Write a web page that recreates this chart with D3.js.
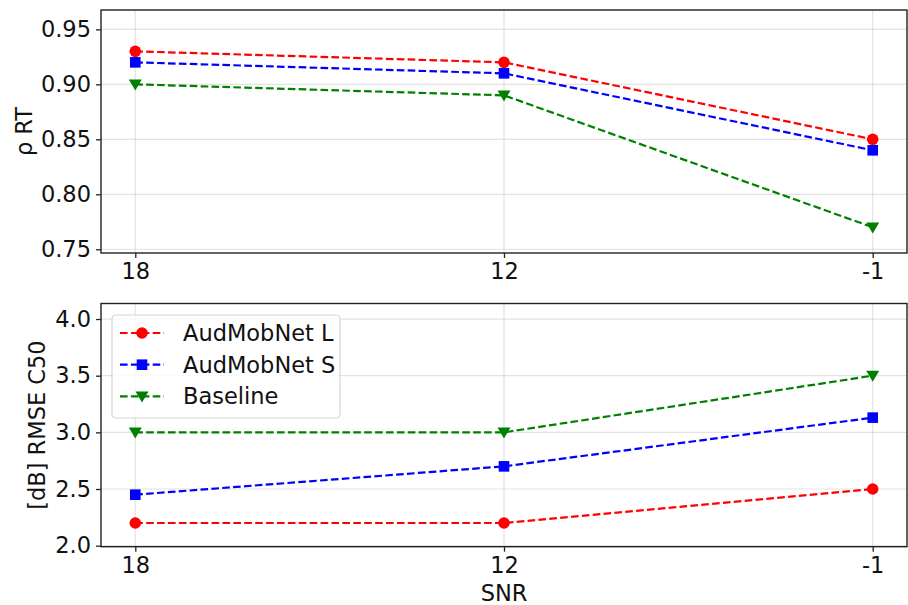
<!DOCTYPE html>
<html>
<head>
<meta charset="utf-8">
<script src="https://cdn.jsdelivr.net/npm/d3@7"></script>
<style>
  html, body { margin: 0; padding: 0; background: #fff; }
  svg { display: block; font-family: "DejaVu Sans", sans-serif; }
</style>
</head>
<body>
<svg id="chart" width="908" height="605"></svg>
<script>
// SNR conditions on the x axis
const snrLevels = ["18", "12", "-1"];

// Series names
const seriesNames = ["AudMobNet L", "AudMobNet S", "Baseline"];

// Top panel: correlation of predicted reverberation time
const rhoL = [0.93, 0.92, 0.85];
const rhoS = [0.92, 0.91, 0.84];
const rhoBase = [0.90, 0.89, 0.77];

// Bottom panel: RMSE of C50 in dB
const rmseL = [2.2, 2.2, 2.5];
const rmseS = [2.45, 2.7, 3.13];
const rmseBase = [3.0, 3.0, 3.5];

// Tick values for the y axes
const rhoTicks = [0.75, 0.80, 0.85, 0.90, 0.95];
const rmseTicks = [2.0, 2.5, 3.0, 3.5, 4.0];

const styles = [
  { color: "#ff0000", marker: "circle" },
  { color: "#0000ff", marker: "square" },
  { color: "#008000", marker: "triangleDown" }
];

const FONT = 22.5;
const svg = d3.select("#chart");
const left = 101, right = 907;

const x = d3.scalePoint().domain(snrLevels).range([left, right]).padding(0.093);

function drawMarker(g, type, cx, cy, color) {
  if (type === "circle") {
    g.append("circle").attr("cx", cx).attr("cy", cy).attr("r", 5.8).attr("fill", color);
  } else if (type === "square") {
    g.append("rect").attr("x", cx - 5.3).attr("y", cy - 5.3).attr("width", 10.6).attr("height", 10.6).attr("fill", color);
  } else {
    const s = 6.5;
    g.append("path")
      .attr("d", `M${cx - s},${cy - s * 0.75}L${cx + s},${cy - s * 0.75}L${cx},${cy + s * 0.95}Z`)
      .attr("fill", color);
  }
}

function panel(cfg) {
  const y = d3.scaleLinear().domain(cfg.domain).range([cfg.bottom, cfg.top]);
  const g = svg.append("g");

  // grid
  g.append("g").selectAll("line").data(cfg.ticks).join("line")
    .attr("x1", left).attr("x2", right)
    .attr("y1", d => y(d)).attr("y2", d => y(d))
    .attr("stroke", "#b0b0b0").attr("stroke-opacity", 0.35).attr("stroke-width", 1.2);
  g.append("g").selectAll("line").data(snrLevels).join("line")
    .attr("x1", d => x(d)).attr("x2", d => x(d))
    .attr("y1", cfg.top).attr("y2", cfg.bottom)
    .attr("stroke", "#b0b0b0").attr("stroke-opacity", 0.35).attr("stroke-width", 1.2);

  // series
  const line = d3.line().x((d, i) => x(snrLevels[i])).y(d => y(d));
  cfg.series.forEach((vals, k) => {
    const st = styles[k];
    g.append("path").datum(vals)
      .attr("d", line)
      .attr("fill", "none")
      .attr("stroke", st.color)
      .attr("stroke-width", 2.2)
      .attr("stroke-dasharray", "7.6,3.3");
    vals.forEach((v, i) => drawMarker(g, st.marker, x(snrLevels[i]), y(v), st.color));
  });

  // axes
  const yAxis = d3.axisLeft(y).tickValues(cfg.ticks).tickFormat(cfg.fmt).tickSize(5).tickPadding(5);
  const ya = g.append("g").attr("transform", `translate(${left},0)`).call(yAxis);
  const xAxis = d3.axisBottom(x).tickSize(5).tickPadding(5.5);
  const xa = g.append("g").attr("transform", `translate(0,${cfg.bottom})`).call(xAxis);
  [ya, xa].forEach(a => {
    a.select(".domain").remove();
    a.selectAll(".tick line").attr("stroke", "#222").attr("stroke-width", 1.3);
    a.selectAll(".tick text").attr("font-size", FONT).attr("fill", "#111")
      .attr("font-family", "DejaVu Sans, sans-serif");
  });

  // frame
  g.append("rect")
    .attr("x", left).attr("y", cfg.top)
    .attr("width", right - left).attr("height", cfg.bottom - cfg.top)
    .attr("fill", "none").attr("stroke", "#222").attr("stroke-width", 1.4);

  // y label
  g.append("text")
    .attr("transform", `translate(${cfg.labelX},${(cfg.top + cfg.bottom) / 2}) rotate(-90)`)
    .attr("text-anchor", "middle").attr("dominant-baseline", "central")
    .attr("font-size", FONT).attr("fill", "#111")
    .text(cfg.label);

  return { g, y };
}

panel({
  top: 10, bottom: 253,
  domain: [0.7466, 0.9676],
  ticks: rhoTicks,
  fmt: d3.format(".2f"),
  series: [rhoL, rhoS, rhoBase],
  label: "ρ RT",
  labelX: 24
});

panel({
  top: 303.5, bottom: 546.7,
  domain: [1.991, 4.137],
  ticks: rmseTicks,
  fmt: d3.format(".1f"),
  series: [rmseL, rmseS, rmseBase],
  label: "[dB] RMSE C50",
  labelX: 37
});

// x axis label
svg.append("text")
  .attr("x", (left + right) / 2).attr("y", 593)
  .attr("text-anchor", "middle").attr("dominant-baseline", "central")
  .attr("font-size", FONT).attr("fill", "#111")
  .text("SNR");

// legend
const leg = svg.append("g").attr("transform", "translate(112,315)");
leg.append("rect")
  .attr("x", 0).attr("y", 0).attr("width", 228).attr("height", 103).attr("rx", 4)
  .attr("fill", "#fff").attr("fill-opacity", 0.8)
  .attr("stroke", "#d6d6d6").attr("stroke-width", 1.2);
seriesNames.forEach((name, k) => {
  const cy = 18 + k * 31.7;
  const st = styles[k];
  leg.append("line")
    .attr("x1", 8).attr("x2", 52).attr("y1", cy).attr("y2", cy)
    .attr("stroke", st.color).attr("stroke-width", 2.2).attr("stroke-dasharray", "7.6,3.3");
  drawMarker(leg, st.marker, 30, cy, st.color);
  leg.append("text")
    .attr("x", 71).attr("y", cy)
    .attr("dominant-baseline", "central")
    .attr("font-size", FONT).attr("fill", "#111")
    .text(name);
});
</script>
</body>
</html>
